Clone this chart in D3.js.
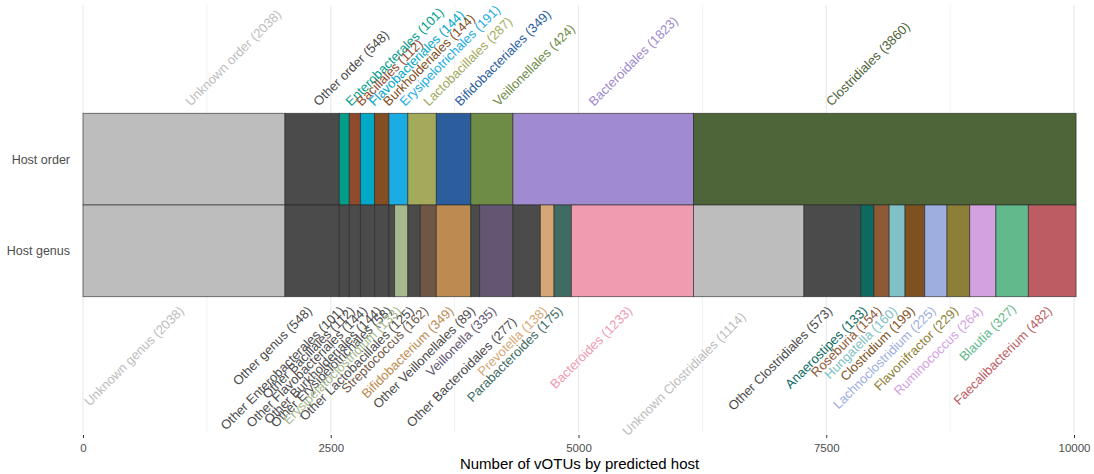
<!DOCTYPE html>
<html>
<head>
<meta charset="utf-8">
<script src="https://cdn.jsdelivr.net/npm/d3@7"></script>
<style>
  body { margin: 0; background: #fff; }
  svg text { font-family: "Liberation Sans", Arial, Helvetica, sans-serif; }
</style>
</head>
<body>
<svg id="chart" width="1094" height="474"></svg>
<script>
// Host assignment of vOTUs, at order level and at genus level
const rowNames = ["Host order", "Host genus"];

const orderNames = ["Unknown order", "Other order", "Enterobacterales", "Bacillales",
  "Flavobacteriales", "Burkholderiales", "Erysipelotrichales", "Lactobacillales",
  "Bifidobacteriales", "Veillonellales", "Bacteroidales", "Clostridiales"];
const orderCounts = [2038, 548, 101, 112, 144, 144, 191, 287, 349, 424, 1823, 3860];

const genusNames = ["Unknown genus", "Other genus", "Other Enterobacterales", "Other Bacillales",
  "Other Flavobacteriales", "Other Burkholderiales", "Other Erysipelotrichales",
  "Erysipelatoclostridium", "Other Lactobacillales", "Streptococcus", "Bifidobacterium",
  "Other Veillonellales", "Veillonella", "Other Bacteroidales", "Prevotella",
  "Parabacteroides", "Bacteroides", "Unknown Clostridiales", "Other Clostridiales",
  "Anaerostipes", "Roseburia", "Hungatella", "Clostridium", "Lachnoclostridium",
  "Flavonifractor", "Ruminococcus", "Blautia", "Faecalibacterium"];
const genusCounts = [2038, 548, 101, 112, 144, 144, 58, 133, 125, 162, 349, 89, 335, 277,
  138, 175, 1233, 1114, 573, 133, 154, 160, 199, 225, 229, 264, 327, 482];

const xTicks = [0, 2500, 5000, 7500, 10000];
const xMinorTicks = [1250, 3750, 6250, 8750];
const xTitle = "Number of vOTUs by predicted host";

// Fill colours, one per segment
const orderColors = ["#bdbdbd", "#4b4b4b", "#009e8a", "#8f4a2c", "#00a8c8", "#824e22",
  "#1aace2", "#a3aa5b", "#2c5e9d", "#6f8c46", "#a08ad0", "#4d6539"];
const genusColors = ["#bdbdbd", "#4b4b4b", "#4b4b4b", "#4b4b4b", "#4b4b4b", "#4b4b4b",
  "#4b4b4b", "#a5b98d", "#4b4b4b", "#6f5646", "#bd8b51", "#4b4b4b", "#625672", "#4b4b4b",
  "#d6a776", "#3f6b62", "#ef9bb0", "#bdbdbd", "#4b4b4b", "#0c6a5f", "#8e5a36", "#7fc1c6",
  "#7e5220", "#9daedf", "#8d7f37", "#d3a1df", "#62b98b", "#bd5d63"];

// Small label shifts (px) that keep crowded labels apart
const labelShift = {
  "Bacteroidales": [-16, 0],
  "Clostridiales": [-60, 0],
  "Other Bacteroidales": [-10, 11],
  "Unknown Clostridiales": [-3, 6],
  "Blautia": [4, -2]
};

function stack(names, counts, colors, row) {
  let acc = 0;
  return names.map((n, i) => {
    const d = { name: n, value: counts[i], x0: acc, x1: acc + counts[i], color: colors[i], row };
    acc += counts[i];
    return d;
  });
}
const orderSegs = stack(orderNames, orderCounts, orderColors, rowNames[0]);
const genusSegs = stack(genusNames, genusCounts, genusColors, rowNames[1]);

const svg = d3.select("#chart");
const panel = { left: 83, right: 1074, top: 5, bottom: 433 };

const x = d3.scaleLinear().domain([0, 10000]).range([panel.left, panel.right]);
const y = d3.scaleBand().domain(rowNames).range([113.3, 296.7]).padding(0);

// grid
const grid = svg.append("g");
grid.selectAll("line.minor").data(xMinorTicks).join("line")
  .attr("x1", d => x(d)).attr("x2", d => x(d))
  .attr("y1", panel.top).attr("y2", panel.bottom)
  .attr("stroke", "#efefef").attr("stroke-width", 0.8);
grid.selectAll("line.major").data(xTicks).join("line")
  .attr("x1", d => x(d)).attr("x2", d => x(d))
  .attr("y1", panel.top).attr("y2", panel.bottom)
  .attr("stroke", "#e9e9e9").attr("stroke-width", 1.1);

// bars
const bars = svg.append("g");
bars.selectAll("rect").data(orderSegs.concat(genusSegs)).join("rect")
  .attr("x", d => x(d.x0))
  .attr("width", d => x(d.x1) - x(d.x0))
  .attr("y", d => y(d.row))
  .attr("height", y.bandwidth())
  .attr("fill", d => d.color)
  .attr("stroke", "#262626")
  .attr("stroke-opacity", 0.75)
  .attr("stroke-width", 0.8);

// labels above the order bar
const fs = 13;
svg.append("g").selectAll("text").data(orderSegs).join("text")
  .attr("transform", d => {
    const s = labelShift[d.name] || [0, 0];
    const ax = x((d.x0 + d.x1) / 2) + 3.5 + s[0];
    const ay = y(rowNames[0]) - 9.8 + s[1];
    return `translate(${ax},${ay}) rotate(-45)`;
  })
  .attr("text-anchor", "start")
  .attr("dy", "0.35em")
  .attr("font-size", fs)
  .attr("fill", d => d.color)
  .text(d => `${d.name} (${d.value})`);

// labels below the genus bar
svg.append("g").selectAll("text").data(genusSegs).join("text")
  .attr("transform", d => {
    const s = labelShift[d.name] || [0, 0];
    const ax = x((d.x0 + d.x1) / 2) - 2.5 + s[0];
    const ay = y(rowNames[1]) + y.bandwidth() + 11.8 + s[1];
    return `translate(${ax},${ay}) rotate(-45)`;
  })
  .attr("text-anchor", "end")
  .attr("dy", "0.35em")
  .attr("font-size", fs)
  .attr("fill", d => d.color)
  .text(d => `${d.name} (${d.value})`);

// y axis labels
svg.append("g").selectAll("text").data(rowNames).join("text")
  .attr("x", 70)
  .attr("y", d => y(d) + y.bandwidth() / 2)
  .attr("dy", "0.35em")
  .attr("text-anchor", "end")
  .attr("font-size", 12.5)
  .attr("fill", "#4d4d4d")
  .text(d => d);

// x axis
const xAxis = d3.axisBottom(x).tickValues(xTicks).tickSize(3).tickPadding(6).tickFormat(d3.format("d"));
const gx = svg.append("g").attr("transform", `translate(0,${panel.bottom + 2})`).call(xAxis);
gx.select(".domain").remove();
gx.selectAll(".tick line").attr("stroke", "#333").attr("stroke-width", 1);
gx.selectAll(".tick text").attr("font-size", 11.5).attr("fill", "#4d4d4d")
  .attr("font-family", "\"Liberation Sans\", Arial, sans-serif");

svg.append("text")
  .attr("x", (panel.left + x(10021)) / 2)
  .attr("y", 469)
  .attr("text-anchor", "middle")
  .attr("font-size", 15)
  .attr("fill", "#000")
  .text(xTitle);
</script>
</body>
</html>
